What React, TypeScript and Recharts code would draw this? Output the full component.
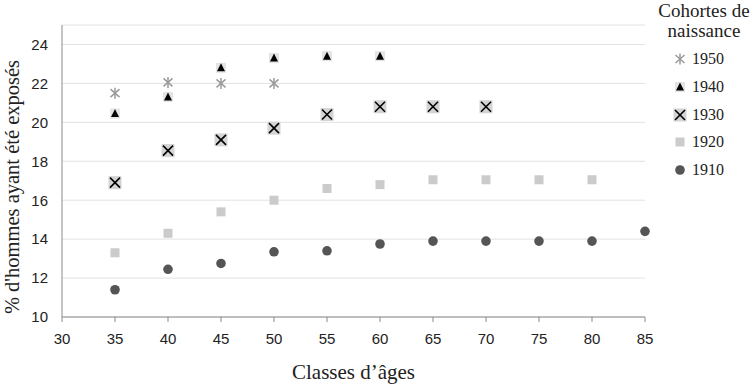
import React from 'react';
import {
  ScatterChart,
  Scatter,
  XAxis,
  YAxis,
  CartesianGrid,
} from 'recharts';

// age classes (x) and the cohort series
const ages = [35, 40, 45, 50, 55, 60, 65, 70, 75, 80, 85];
const xTicks = [30, 35, 40, 45, 50, 55, 60, 65, 70, 75, 80, 85];
const yTicks = [10, 12, 14, 16, 18, 20, 22, 24];

const c1950 = [21.5, 22.05, 22.0, 22.0];
const c1940 = [20.45, 21.3, 22.8, 23.3, 23.4, 23.4];
const c1930 = [16.9, 18.55, 19.1, 19.7, 20.4, 20.8, 20.8, 20.8];
const c1920 = [13.3, 14.3, 15.4, 16.0, 16.6, 16.8, 17.05, 17.05, 17.05, 17.05];
const c1910 = [11.4, 12.45, 12.75, 13.35, 13.4, 13.75, 13.9, 13.9, 13.9, 13.9, 14.4];

const toPoints = (vals: number[]) => vals.map((v, i) => ({ x: ages[i], y: v }));

const serif = '"Liberation Serif", "DejaVu Serif", serif';
const sans = '"Liberation Sans", Arial, sans-serif';

// marker shapes
const Asterisk = ({ cx, cy }: any) => (
  <g stroke="#9a9a9a" strokeWidth={1.5}>
    <line x1={cx} y1={cy - 5.5} x2={cx} y2={cy + 5.5} />
    <line x1={cx - 4.5} y1={cy - 4} x2={cx + 4.5} y2={cy + 4} />
    <line x1={cx - 4.5} y1={cy + 4} x2={cx + 4.5} y2={cy - 4} />
  </g>
);

const Triangle = ({ cx, cy }: any) => (
  <g>
    <rect x={cx - 5} y={cy - 5} width={10} height={10} fill="#e4e4e4" />
    <path d={`M${cx},${cy - 4.5} L${cx + 4},${cy + 3.5} L${cx - 4},${cy + 3.5} Z`} fill="#000" />
  </g>
);

const CrossBox = ({ cx, cy }: any) => (
  <g>
    <rect x={cx - 6.5} y={cy - 6.5} width={13} height={13} fill="#d4d4d4" />
    <g stroke="#000" strokeWidth={1.6}>
      <line x1={cx - 5} y1={cy - 5} x2={cx + 5} y2={cy + 5} />
      <line x1={cx - 5} y1={cy + 5} x2={cx + 5} y2={cy - 5} />
    </g>
  </g>
);

const Square = ({ cx, cy }: any) => (
  <rect x={cx - 4.5} y={cy - 4.5} width={9} height={9} fill="#cbcbcb" />
);

const Dot = ({ cx, cy }: any) => <circle cx={cx} cy={cy} r={4.8} fill="#555555" />;

const legendItems = [
  { name: '1950', Shape: Asterisk },
  { name: '1940', Shape: Triangle },
  { name: '1930', Shape: CrossBox },
  { name: '1920', Shape: Square },
  { name: '1910', Shape: Dot },
];

const App = () => {
  return (
    <div style={{ position: 'absolute', left: 0, top: 0, width: 756, height: 385, background: '#fff' }}>
      <ScatterChart
        width={756}
        height={385}
        margin={{ top: 25, right: 111, left: 0, bottom: 0 }}
      >
        <CartesianGrid vertical={false} stroke="#e2e2e2" />
        <XAxis
          type="number"
          dataKey="x"
          domain={[30, 85]}
          ticks={xTicks}
          height={68}
          tick={{ fontSize: 15, fill: '#222', fontFamily: sans }}
          tickSize={5}
          tickMargin={11}
          tickLine={{ stroke: '#8a8a8a' }}
          axisLine={{ stroke: '#8a8a8a' }}
          label={{
            value: 'Classes d’âges',
            position: 'insideBottom',
            offset: 6,
            fontSize: 21,
            fill: '#222',
            fontFamily: serif,
          }}
        />
        <YAxis
          type="number"
          dataKey="y"
          domain={[10, 25]}
          ticks={yTicks}
          width={62}
          tickLine={false}
          tickMargin={8}
          tick={{ fontSize: 15, fill: '#222', fontFamily: sans }}
          axisLine={{ stroke: '#8a8a8a' }}
        />
        <Scatter data={toPoints(c1910)} shape={Dot} isAnimationActive={false} />
        <Scatter data={toPoints(c1920)} shape={Square} isAnimationActive={false} />
        <Scatter data={toPoints(c1930)} shape={CrossBox} isAnimationActive={false} />
        <Scatter data={toPoints(c1940)} shape={Triangle} isAnimationActive={false} />
        <Scatter data={toPoints(c1950)} shape={Asterisk} isAnimationActive={false} />
      </ScatterChart>
      <svg
        width={28}
        height={385}
        style={{ position: 'absolute', left: 0, top: 0 }}
      >
        <text
          x={18.5}
          y={187}
          transform="rotate(-90, 18.5, 187)"
          textAnchor="middle"
          fontFamily={serif}
          fontSize={20.5}
          fill="#222"
        >
          % d'hommes ayant été exposés
        </text>
      </svg>
      <div
        style={{
          position: 'absolute',
          left: 652,
          top: 1,
          width: 104,
          textAlign: 'center',
          fontFamily: serif,
          fontSize: 19,
          lineHeight: '20px',
          color: '#222',
        }}
      >
        Cohortes de
        <br />
        naissance
      </div>
      {legendItems.map((item, i) => (
        <div
          key={item.name}
          style={{
            position: 'absolute',
            left: 672,
            top: 49 + i * 27.8,
            height: 20,
            display: 'flex',
            alignItems: 'center',
            fontFamily: serif,
            fontSize: 16,
            color: '#222',
          }}
        >
          <svg width={16} height={20}>
            <item.Shape cx={8} cy={10} />
          </svg>
          <span style={{ marginLeft: 4 }}>{item.name}</span>
        </div>
      ))}
    </div>
  );
};

export default App;
